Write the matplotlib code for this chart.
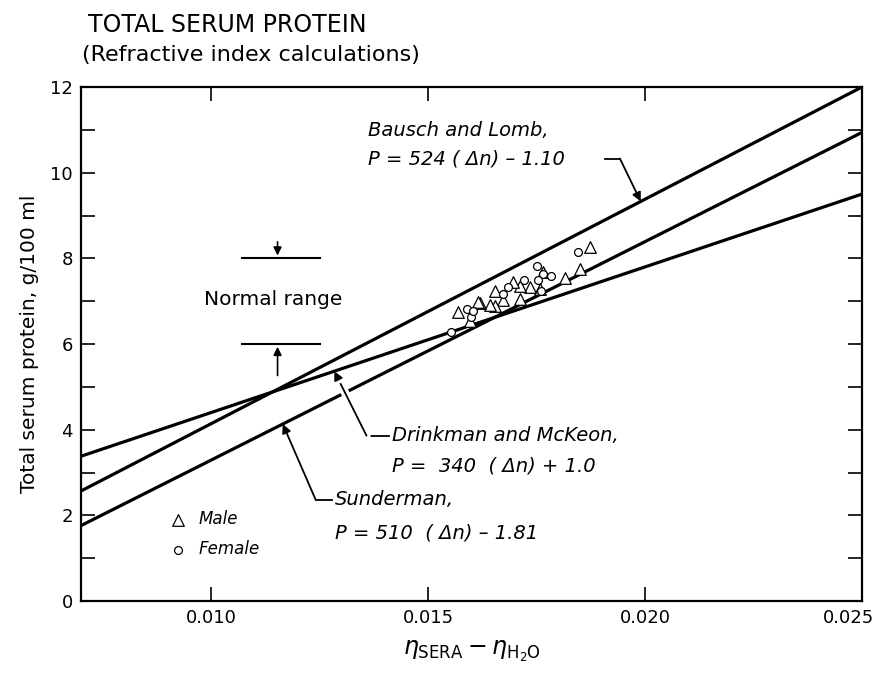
import numpy as np
import matplotlib.pyplot as plt
from matplotlib import patheffects as pe
from matplotlib.transforms import ScaledTranslation

# equations quoted on the chart: P = slope * dn + intercept
methods = ["Bausch and Lomb", "Drinkman and McKeon", "Sunderman"]
slopes = [524, 340, 510]
intercepts = [-1.10, 1.0, -1.81]

# refractive index difference vs total protein
male_dn = [0.01873, 0.01850, 0.01815, 0.01765, 0.01757, 0.01734, 0.01711, 0.01711, 0.01696,
           0.01672, 0.01654, 0.01654, 0.01642, 0.01619, 0.01614, 0.01596, 0.01568]
male_p = [8.27, 7.74, 7.53, 7.68, 7.28, 7.34, 7.35, 7.06, 7.45,
          7.02, 7.24, 6.88, 6.91, 6.95, 6.99, 6.53, 6.74]
female_dn = [0.01846, 0.01752, 0.01764, 0.01783, 0.01754, 0.01760, 0.01721, 0.01683, 0.01672,
             0.01552, 0.01589, 0.01598, 0.01603]
female_p = [8.15, 7.81, 7.64, 7.58, 7.49, 7.24, 7.49, 7.34, 7.16,
            6.27, 6.81, 6.64, 6.76]

normal_range = [6, 8]
x_ticks = [0.010, 0.015, 0.020, 0.025]
x_labels = ["0.010", "0.015", "0.020", "0.025"]
y_ticks = [0, 2, 4, 6, 8, 10, 12]

plt.rcParams['font.family'] = ['DejaVu Sans']

fig = plt.figure(figsize=(8.72, 6.75), dpi=100)
ax = fig.add_axes([81 / 872, 74 / 675, 781 / 872, 514 / 675])

xs = np.array([0.007, 0.025])
zs = {"Bausch and Lomb": 3, "Drinkman and McKeon": 5, "Sunderman": 2}
for name, m, b in zip(methods, slopes, intercepts):
    ax.plot(xs, m * xs + b, color='black', lw=2.3, zorder=zs[name], solid_capstyle='butt')

ax.scatter(male_dn, male_p, marker='^', s=70, facecolors='white', edgecolors='black',
           linewidths=0.9, zorder=6, label='Male')
ax.scatter(female_dn, female_p, marker='o', s=32, facecolors='white', edgecolors='black',
           linewidths=0.9, zorder=6, label='Female')

ax.set_xlim(0.007, 0.025)
ax.set_ylim(0, 12)
ax.set_xticks(x_ticks)
ax.set_xticklabels(x_labels)
ax.set_yticks(y_ticks)
ax.set_yticks(np.arange(1, 12, 2), minor=True)
ax.tick_params(which='both', direction='in', length=10, width=1.2, top=True, right=True,
               labelsize=13, pad=6)
for s in ax.spines.values():
    s.set_linewidth(1.6)
# last x label sits inside the figure edge, as in the original
last = ax.get_xticklabels()[-1]
last.set_transform(last.get_transform() + ScaledTranslation(-0.14, 0, fig.dpi_scale_trans))

ax.set_xlabel(r'$\eta_{\mathrm{SERA}} - \eta_{\mathrm{H_2O}}$', fontsize=17, labelpad=8)
ax.set_ylabel('Total serum protein, g/100 ml', fontsize=14.5, labelpad=8)

fig.text(88 / 872, 1 - 25 / 675, 'TOTAL SERUM PROTEIN', fontsize=17, va='center')
fig.text(82 / 872, 1 - 55 / 675, '(Refractive index calculations)', fontsize=16, va='center')

# normal range marker
for v in normal_range:
    ax.plot([0.0107, 0.0125], [v, v], color='black', lw=1.5, zorder=4)
ax.annotate('', xy=(0.01153, 8.0), xytext=(0.01153, 8.45),
            arrowprops=dict(arrowstyle='-|>', color='black', lw=1.2, mutation_scale=12))
ax.annotate('', xy=(0.01153, 6.0), xytext=(0.01153, 5.2),
            arrowprops=dict(arrowstyle='-|>', color='black', lw=1.2, mutation_scale=12))
ax.text(0.011437, 7.05, 'Normal range', fontsize=14.5, ha='center', va='center')

# equation labels with leaders
ann_font = dict(fontsize=14, style='italic', va='center', ha='left')
arrow_kw = dict(arrowstyle='-|>', color='black', lw=1.3, mutation_scale=13, shrinkA=0, shrinkB=0)

ax.text(0.01361, 10.98, 'Bausch and Lomb,', **ann_font)
ax.text(0.01361, 10.33, 'P = 524 ( \u0394n) \u2013 1.10', **ann_font)
ax.plot([0.01908, 0.01942], [10.33, 10.33], color='black', lw=1.3)
ax.annotate('', xy=(0.0199, 524 * 0.0199 - 1.10), xytext=(0.01942, 10.33), arrowprops=arrow_kw)

ax.text(0.01416, 3.86, 'Drinkman and McKeon,', **ann_font)
ax.text(0.01416, 3.16, 'P =  340  ( \u0394n) + 1.0', **ann_font)
ax.plot([0.01358, 0.01410], [3.86, 3.86], color='black', lw=1.3)
ax.annotate('', xy=(0.012838, 340 * 0.012838 + 1.0), xytext=(0.01358, 3.86),
            arrowprops=dict(arrowstyle='-|>', color='black', lw=1.3, mutation_scale=13,
                            shrinkA=0, shrinkB=0,
                            path_effects=[pe.withStroke(linewidth=6, foreground='white')]),
            zorder=4)

ax.text(0.012849, 2.36, 'Sunderman,', **ann_font)
ax.text(0.012849, 1.59, 'P = 510  ( \u0394n) \u2013 1.81', **ann_font)
ax.plot([0.01241, 0.01278], [2.36, 2.36], color='black', lw=1.3)
ax.annotate('', xy=(0.01165, 510 * 0.01165 - 1.81), xytext=(0.01241, 2.36), arrowprops=arrow_kw)

leg = ax.legend(loc='center left', bbox_to_anchor=(0.103, 0.13), frameon=False, fontsize=12,
                handletextpad=0.2, labelspacing=0.7, borderaxespad=0, borderpad=0,
                scatterpoints=1)
for t in leg.get_texts():
    t.set_style('italic')

fig.savefig('out.png', dpi=100)
